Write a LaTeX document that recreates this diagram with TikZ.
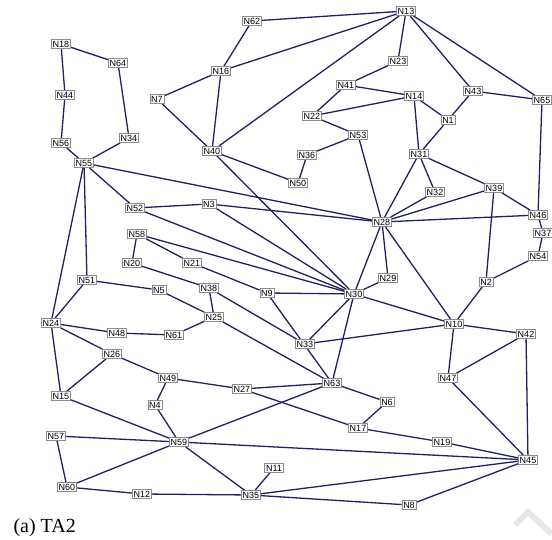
\documentclass[tikz,border=0pt]{standalone}
\usepackage{fontspec}
\setmainfont{Liberation Serif}
\setsansfont{Liberation Sans}
\usepackage{xcolor}
\usepackage{tikz}
\usetikzlibrary{arrows.meta,positioning,backgrounds}
\definecolor{linkblue}{RGB}{32,32,100}
\definecolor{boxgray}{RGB}{140,140,140}

\begin{document}
\begin{tikzpicture}[
x=1pt, y=-1pt,
router/.style={draw=boxgray, line width=0.6pt, fill=white, inner sep=1.4pt, font=\sffamily\fontsize{9}{10}\selectfont},
link/.style={draw=linkblue, line width=1.3pt}
]
\useasboundingbox (0,0) rectangle (552,540);
\node[router] (n18) at (61,44) {N18};
\node[router] (n64) at (118,63) {N64};
\node[router] (n44) at (65,95) {N44};
\node[router] (n56) at (61,143) {N56};
\node[router] (n34) at (129,138) {N34};
\node[router] (n55) at (84,163) {N55};
\node[router] (n7) at (157,99) {N7};
\node[router] (n16) at (221,71) {N16};
\node[router] (n62) at (252,21) {N62};
\node[router] (n40) at (212,151) {N40};
\node[router] (n13) at (406,11) {N13};
\node[router] (n23) at (398,61) {N23};
\node[router] (n41) at (346,85) {N41};
\node[router] (n14) at (414,96) {N14};
\node[router] (n22) at (312,116) {N22};
\node[router] (n43) at (473,91) {N43};
\node[router] (n65) at (542,100) {N65};
\node[router] (n1) at (448,120) {N1};
\node[router] (n53) at (358,135) {N53};
\node[router] (n36) at (307,155) {N36};
\node[router] (n31) at (419,154) {N31};
\node[router] (n50) at (298,183) {N50};
\node[router] (n32) at (435,192) {N32};
\node[router] (n39) at (494,188) {N39};
\node[router] (n52) at (135,208) {N52};
\node[router] (n3) at (209,204) {N3};
\node[router] (n58) at (137,234) {N58};
\node[router] (n20) at (132,263) {N20};
\node[router] (n21) at (192,263) {N21};
\node[router] (n51) at (87,280) {N51};
\node[router] (n5) at (159,290) {N5};
\node[router] (n38) at (209,288) {N38};
\node[router] (n9) at (267,293) {N9};
\node[router] (n25) at (214,317) {N25};
\node[router] (n24) at (51,323) {N24};
\node[router] (n48) at (117,333) {N48};
\node[router] (n61) at (174,335) {N61};
\node[router] (n26) at (112,354) {N26};
\node[router] (n49) at (168,378) {N49};
\node[router] (n27) at (242,389) {N27};
\node[router] (n46) at (538,215) {N46};
\node[router] (n28) at (382,222) {N28};
\node[router] (n37) at (543,233) {N37};
\node[router] (n54) at (538,256) {N54};
\node[router] (n29) at (388,278) {N29};
\node[router] (n2) at (486,282) {N2};
\node[router] (n30) at (354,294) {N30};
\node[router] (n10) at (454,324) {N10};
\node[router] (n42) at (526,334) {N42};
\node[router] (n33) at (305,344) {N33};
\node[router] (n47) at (448,378) {N47};
\node[router] (n63) at (332,383) {N63};
\node[router] (n15) at (61,396) {N15};
\node[router] (n4) at (155,405) {N4};
\node[router] (n57) at (56,436) {N57};
\node[router] (n59) at (179,442) {N59};
\node[router] (n11) at (274,468) {N11};
\node[router] (n60) at (67,487) {N60};
\node[router] (n12) at (142,494) {N12};
\node[router] (n35) at (251,495) {N35};
\node[router] (n6) at (387,402) {N6};
\node[router] (n17) at (358,428) {N17};
\node[router] (n19) at (442,442) {N19};
\node[router] (n45) at (528,460) {N45};
\node[router] (n8) at (409,505) {N8};
\node[anchor=base west, font=\fontsize{20}{22}\selectfont] (caption) at (10,532) {(a) TA2};
% links, behind the boxes
\begin{pgfonlayer}{background}
\draw[link] (n18) -- (n64);
\draw[link] (n18) -- (n44);
\draw[link] (n44) -- (n56);
\draw[link] (n64) -- (n34);
\draw[link] (n56) -- (n55);
\draw[link] (n34) -- (n55);
\draw[link] (n55) -- (n28);
\draw[link] (n55) -- (n52);
\draw[link] (n55) -- (n24);
\draw[link] (n55) -- (n51);
\draw[link] (n62) -- (n16);
\draw[link] (n62) -- (n13);
\draw[link] (n16) -- (n13);
\draw[link] (n7) -- (n16);
\draw[link] (n7) -- (n40);
\draw[link] (n16) -- (n40);
\draw[link] (n40) -- (n13);
\draw[link] (n40) -- (n50);
\draw[link] (n40) -- (n30);
\draw[link] (n13) -- (n23);
\draw[link] (n13) -- (n43);
\draw[link] (n13) -- (n65);
\draw[link] (n23) -- (n41);
\draw[link] (n41) -- (n14);
\draw[link] (n41) -- (n22);
\draw[link] (n22) -- (n14);
\draw[link] (n22) -- (n53);
\draw[link] (n53) -- (n36);
\draw[link] (n36) -- (n50);
\draw[link] (n53) -- (n28);
\draw[link] (n14) -- (n1);
\draw[link] (n14) -- (n31);
\draw[link] (n1) -- (n43);
\draw[link] (n1) -- (n31);
\draw[link] (n43) -- (n65);
\draw[link] (n65) -- (n46);
\draw[link] (n31) -- (n32);
\draw[link] (n31) -- (n39);
\draw[link] (n31) -- (n28);
\draw[link] (n32) -- (n28);
\draw[link] (n39) -- (n28);
\draw[link] (n39) -- (n46);
\draw[link] (n39) -- (n2);
\draw[link] (n46) -- (n28);
\draw[link] (n46) -- (n37);
\draw[link] (n37) -- (n54);
\draw[link] (n54) -- (n2);
\draw[link] (n2) -- (n10);
\draw[link] (n28) -- (n29);
\draw[link] (n28) -- (n30);
\draw[link] (n28) -- (n10);
\draw[link] (n29) -- (n30);
\draw[link] (n52) -- (n3);
\draw[link] (n52) -- (n30);
\draw[link] (n3) -- (n28);
\draw[link] (n3) -- (n30);
\draw[link] (n58) -- (n20);
\draw[link] (n58) -- (n21);
\draw[link] (n58) -- (n30);
\draw[link] (n21) -- (n9);
\draw[link] (n9) -- (n30);
\draw[link] (n9) -- (n63);
\draw[link] (n20) -- (n38);
\draw[link] (n38) -- (n25);
\draw[link] (n38) -- (n33);
\draw[link] (n51) -- (n5);
\draw[link] (n51) -- (n24);
\draw[link] (n5) -- (n25);
\draw[link] (n25) -- (n61);
\draw[link] (n25) -- (n63);
\draw[link] (n24) -- (n48);
\draw[link] (n48) -- (n61);
\draw[link] (n24) -- (n26);
\draw[link] (n24) -- (n15);
\draw[link] (n26) -- (n15);
\draw[link] (n26) -- (n49);
\draw[link] (n49) -- (n4);
\draw[link] (n49) -- (n27);
\draw[link] (n27) -- (n63);
\draw[link] (n27) -- (n17);
\draw[link] (n30) -- (n33);
\draw[link] (n30) -- (n63);
\draw[link] (n30) -- (n10);
\draw[link] (n33) -- (n10);
\draw[link] (n10) -- (n42);
\draw[link] (n10) -- (n47);
\draw[link] (n42) -- (n47);
\draw[link] (n42) -- (n45);
\draw[link] (n47) -- (n45);
\draw[link] (n63) -- (n6);
\draw[link] (n6) -- (n17);
\draw[link] (n17) -- (n19);
\draw[link] (n19) -- (n45);
\draw[link] (n63) -- (n59);
\draw[link] (n4) -- (n59);
\draw[link] (n15) -- (n59);
\draw[link] (n57) -- (n59);
\draw[link] (n57) -- (n60);
\draw[link] (n60) -- (n59);
\draw[link] (n60) -- (n12);
\draw[link] (n12) -- (n35);
\draw[link] (n59) -- (n35);
\draw[link] (n59) -- (n45);
\draw[link] (n35) -- (n11);
\draw[link] (n35) -- (n45);
\draw[link] (n35) -- (n8);
\draw[link] (n8) -- (n45);
\end{pgfonlayer}
% faint mark bottom right
\draw[gray!18, line width=6pt] (515,525) -- (528,512) -- (552,534);
\end{tikzpicture}
\end{document}
